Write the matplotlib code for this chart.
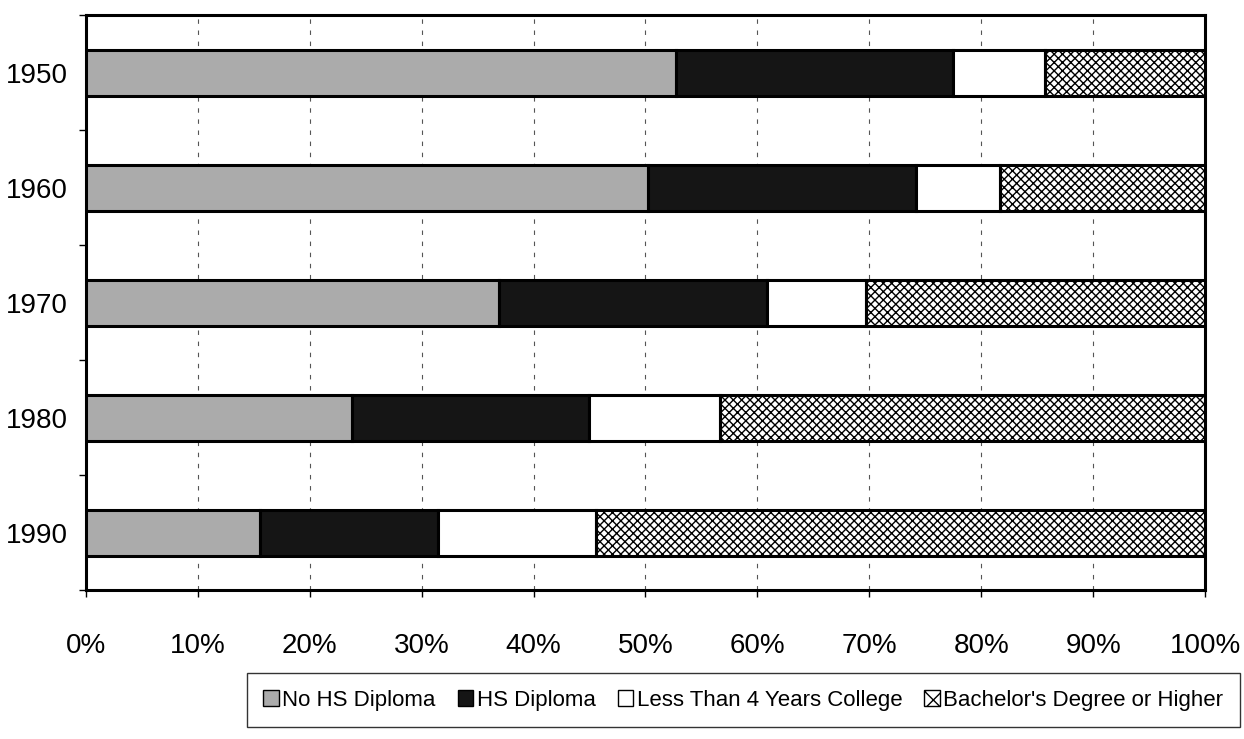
import numpy as np
import matplotlib.pyplot as plt
from matplotlib.patches import Patch

plt.rcParams['font.family'] = ['Liberation Sans', 'DejaVu Sans']
plt.rcParams['hatch.linewidth'] = 1.0

years = ["1950", "1960", "1970", "1980", "1990"]
no_hs = [52.7, 50.2, 36.9, 23.8, 15.6]
hs = [24.8, 24.0, 24.0, 21.2, 15.9]
some_college = [8.2, 7.5, 8.8, 11.7, 14.1]
bachelor = [14.3, 18.3, 30.3, 43.3, 54.4]

labels = ["No HS Diploma", "HS Diploma", "Less Than 4 Years College",
          "Bachelor's Degree or Higher"]
series = [no_hs, hs, some_college, bachelor]
fills = ["#ababab", "#151515", "white", "white"]
hatches = [None, None, None, "xxxx"]

fig = plt.figure(figsize=(12.44, 7.39), dpi=100)
ax = fig.add_axes([0.069, 0.2016, 0.8997, 0.7781])

y = np.arange(len(years))
left = np.zeros(len(years))
for vals, fc, h in zip(series, fills, hatches):
    ax.barh(y, vals, left=left, height=0.4, color=fc, edgecolor="black",
            linewidth=2.2, hatch=h, zorder=3)
    left += np.array(vals)

ax.set_xlim(0, 100)
ax.set_ylim(4.5, -0.5)
ax.set_xticks(np.arange(0, 101, 10))
ax.set_xticklabels([f"{v}%" for v in range(0, 101, 10)], fontsize=20)
ax.set_yticks(y)
ax.set_yticklabels(years, fontsize=20)
ax.set_yticks(np.arange(-0.5, 4.6, 1), minor=True)
ax.tick_params(axis="y", which="major", length=0, pad=13)
ax.tick_params(axis="y", which="minor", length=5, width=1)
ax.tick_params(axis="x", length=5, width=1, pad=26)
ax.grid(axis="x", linestyle=(0, (4, 6)), color="#555555", linewidth=0.8, zorder=0)
for s in ax.spines.values():
    s.set_linewidth(2.2)

handles = [Patch(facecolor=fc, edgecolor="black", hatch=h, linewidth=1)
           for fc, h in zip(fills, hatches)]
handles[3] = Patch(facecolor="white", edgecolor="black", hatch="xx", linewidth=1)
leg = fig.legend(handles, labels, loc="upper right", bbox_to_anchor=(0.9968, 0.0893),
                 borderaxespad=0, ncol=4, fontsize=16, frameon=True, fancybox=False,
                 handlelength=0.7, handleheight=0.7, handletextpad=0.15,
                 columnspacing=1.0, borderpad=0.75, edgecolor="black")
leg.get_frame().set_linewidth(1)

fig.savefig("out.png", dpi=100)
